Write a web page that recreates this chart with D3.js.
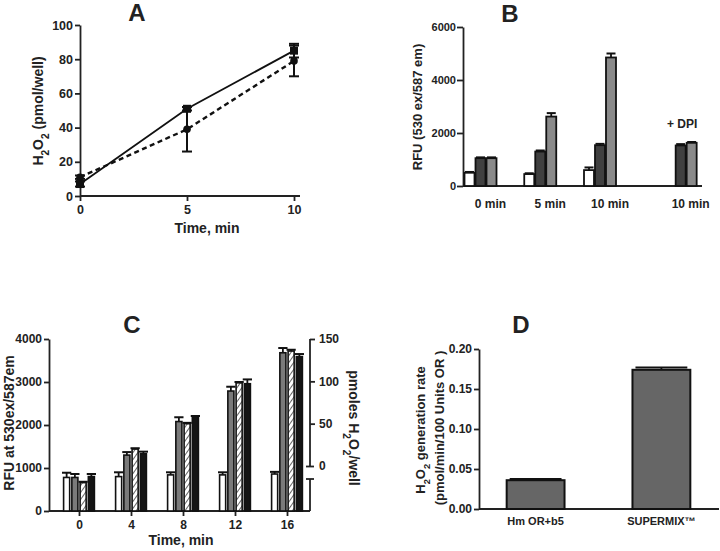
<!DOCTYPE html>
<html>
<head>
<meta charset="utf-8">
<script src="https://cdn.jsdelivr.net/npm/d3@7"></script>
<style>
  body { margin: 0; background: #fff; }
  text { font-family: "Liberation Sans", Arial, sans-serif; font-weight: bold; fill: #222; }
  .axis path, .axis line { stroke: #222; stroke-width: 1.8; }
  .axis text { font-size: 12px; }
</style>
</head>
<body>
<div id="wrapper"></div>
<script>
/* global d3 */

// panel A - H2O2 vs time
const aTimes = [0, 5, 10];
const aSolid = [7, 51, 85];
const aSolidErr = [1.5, 1, 4];
const aDashed = [11, 39, 79];
const aDashedErr = [1, 13, 9];
const aTicksY = [0, 20, 40, 60, 80, 100];

// panel B - RFU per condition
const bGroups = ["0 min", "5 min", "10 min", "10 min"];
const bWhite = [500, 450, 600, null];
const bWhiteErr = [30, 30, 100, 0];
const bDark = [1050, 1300, 1540, 1530];
const bDarkErr = [30, 40, 50, 50];
const bGrey = [1050, 2620, 4850, 1630];
const bGreyErr = [30, 130, 150, 30];
const bTicksY = [0, 2000, 4000, 6000];

// panel C - RFU / pmoles over time
const cTimes = [0, 4, 8, 12, 16];
const cWhite = [780, 800, 840, 840, 860];
const cWhiteErr = [110, 100, 60, 60, 50];
const cGrey = [780, 1300, 2080, 2790, 3680];
const cGreyErr = [80, 70, 100, 100, 110];
const cHatch = [660, 1440, 2030, 2980, 3720];
const cHatchErr = [20, 20, 20, 20, 30];
const cBlack = [800, 1330, 2200, 2960, 3590];
const cBlackErr = [60, 50, 10, 100, 60];
const cTicksLeft = [0, 1000, 2000, 3000, 4000];
const cTicksRight = [0, 50, 100, 150];

// panel D - generation rate
const dCategories = ["Hm OR+b5", "SUPERMIX™"];
const dRates = [0.036, 0.174];
const dRateErr = [0.0015, 0.003];
const dTicksY = [0, 0.05, 0.1, 0.15, 0.2];

const svg = d3.select("#wrapper")
  .append("svg")
  .attr("width", 720)
  .attr("height", 551);

svg.append("rect").attr("width", 720).attr("height", 551).attr("fill", "#fff");

const defs = svg.append("defs");
const hatch = defs.append("pattern")
  .attr("id", "hatch")
  .attr("patternUnits", "userSpaceOnUse")
  .attr("width", 4)
  .attr("height", 4)
  .attr("patternTransform", "rotate(35)");
hatch.append("rect").attr("width", 4).attr("height", 4).attr("fill", "#fff");
hatch.append("line").attr("x1", 0).attr("y1", 0).attr("x2", 0).attr("y2", 4)
  .attr("stroke", "#666").attr("stroke-width", 2);

// text with H2O2 subscripts
function subText(sel, parts) {
  parts.forEach(([t, sub]) => {
    const ts = sel.append("tspan").text(t);
    if (sub) ts.attr("baseline-shift", "sub").style("font-size", "0.72em");
  });
}

function panelTitle(x, y, letter) {
  svg.append("text").attr("x", x).attr("y", y)
    .attr("text-anchor", "middle")
    .style("font-size", "24px")
    .text(letter);
}

// up-only error bar with cap
function upErr(g, x, yVal, yTop, capW) {
  g.append("line").attr("x1", x).attr("x2", x).attr("y1", yVal).attr("y2", yTop)
    .attr("stroke", "#111").attr("stroke-width", 1.8);
  g.append("line").attr("x1", x - capW / 2).attr("x2", x + capW / 2)
    .attr("y1", yTop).attr("y2", yTop)
    .attr("stroke", "#111").attr("stroke-width", 2);
}

/* ---------- Panel A ---------- */
(function drawA() {
  const x = d3.scaleLinear().domain([0, 10]).range([80, 294]);
  const y = d3.scaleLinear().domain([0, 100]).range([196, 25]);
  const g = svg.append("g");

  const ya = g.append("g").attr("class", "axis")
    .attr("transform", "translate(80,0)")
    .call(d3.axisLeft(y).tickValues(aTicksY).tickSize(5).tickSizeOuter(0).tickPadding(2));
  const xa = g.append("g").attr("class", "axis")
    .attr("transform", "translate(0,196)")
    .call(d3.axisBottom(x).tickValues(aTimes).tickSize(5).tickSizeOuter(0).tickPadding(4));
  xa.select(".domain").attr("d", "M80,0H300");
  ya.selectAll("text").style("font-size", "12.5px");
  xa.selectAll("text").style("font-size", "12.5px");

  const pts = aTimes.map((t, i) => ({ t, s: aSolid[i], se: aSolidErr[i], d: aDashed[i], de: aDashedErr[i] }));

  g.append("path").datum(pts)
    .attr("fill", "none").attr("stroke", "#111").attr("stroke-width", 1.8)
    .attr("d", d3.line().x(d => x(d.t)).y(d => y(d.s)));
  g.append("path").datum(pts)
    .attr("fill", "none").attr("stroke", "#111").attr("stroke-width", 2.4)
    .attr("stroke-dasharray", "5,3.5")
    .attr("d", d3.line().x(d => x(d.t)).y(d => y(d.d)));

  pts.forEach(d => {
    [[d.s, d.se], [d.d, d.de]].forEach(([v, e]) => {
      g.append("line").attr("x1", x(d.t)).attr("x2", x(d.t))
        .attr("y1", y(v - e)).attr("y2", y(v + e))
        .attr("stroke", "#111").attr("stroke-width", 2);
      [v - e, v + e].forEach(c => g.append("line")
        .attr("x1", x(d.t) - 5).attr("x2", x(d.t) + 5)
        .attr("y1", y(c)).attr("y2", y(c))
        .attr("stroke", "#111").attr("stroke-width", 2));
    });
  });

  g.selectAll(".sq").data(pts).enter().append("rect")
    .attr("x", d => x(d.t) - 4).attr("y", d => y(d.s) - 4)
    .attr("width", 8).attr("height", 8).attr("fill", "#111");
  g.selectAll(".ci").data(pts).enter().append("circle")
    .attr("cx", d => x(d.t)).attr("cy", d => y(d.d)).attr("r", 3.8).attr("fill", "#111");

  const yl = g.append("text").attr("transform", "translate(43,111) rotate(-90)")
    .attr("text-anchor", "middle").style("font-size", "14px");
  subText(yl, [["H"], ["2", true], ["O"], ["2", true], [" (pmol/well)"]]);

  g.append("text").attr("x", 207).attr("y", 233).attr("text-anchor", "middle")
    .style("font-size", "14px").text("Time, min");

  panelTitle(137, 21, "A");
})();

/* ---------- Panel B ---------- */
(function drawB() {
  const groupPos = [0, 1, 2, 3.35];
  const x = d3.scaleLinear().domain([0, 2]).range([480.5, 600]);
  const y = d3.scaleLinear().domain([0, 6000]).range([186, 27]);
  const bw = 11;
  const g = svg.append("g");

  const ya = g.append("g").attr("class", "axis")
    .attr("transform", "translate(463,0)")
    .call(d3.axisLeft(y).tickValues(bTicksY).tickFormat(d3.format("d"))
      .tickSize(6).tickSizeOuter(0).tickPadding(1));
  ya.selectAll("text").style("font-size", "11px");

  g.append("line").attr("x1", 463).attr("x2", 702).attr("y1", 186).attr("y2", 186)
    .attr("stroke", "#222").attr("stroke-width", 1.8);

  const series = [
    { vals: bWhite, errs: bWhiteErr, fill: "#fff", off: -1 },
    { vals: bDark, errs: bDarkErr, fill: "#404040", off: 0 },
    { vals: bGrey, errs: bGreyErr, fill: "#8a8a8a", off: 1 }
  ];
  series.forEach(s => {
    s.vals.forEach((v, i) => {
      if (v == null) return;
      const cx = x(groupPos[i]) + s.off * bw;
      upErr(g, cx, y(v), y(v + s.errs[i]), bw - 2);
      g.append("rect")
        .attr("x", cx - bw / 2 + 0.5).attr("y", y(v))
        .attr("width", bw - 1).attr("height", 186 - y(v))
        .attr("fill", s.fill).attr("stroke", "#111").attr("stroke-width", 1.8);
    });
  });

  bGroups.forEach((lab, i) => {
    g.append("text").attr("x", x(groupPos[i]) + 10).attr("y", 208)
      .attr("text-anchor", "middle").style("font-size", "12px").text(lab);
  });
  g.append("text").attr("x", 667).attr("y", 128).style("font-size", "12px").text("+ DPI");

  g.append("text").attr("transform", "translate(422,107) rotate(-90)")
    .attr("text-anchor", "middle").style("font-size", "13px").text("RFU (530 ex/587 em)");

  panelTitle(510, 22, "B");
})();

/* ---------- Panel C ---------- */
(function drawC() {
  const x = d3.scalePoint().domain(cTimes).range([53, 313]).padding(0.5);
  const y = d3.scaleLinear().domain([0, 4000]).range([511, 339]);
  const yr = d3.scaleLinear().domain([0, 150]).range([466, 339]);
  const inner = d3.scaleBand().domain([0, 1, 2, 3]).range([-16, 16]).paddingInner(0.12);
  const g = svg.append("g");

  g.append("g").attr("class", "axis")
    .attr("transform", "translate(49,0)")
    .call(d3.axisLeft(y).tickValues(cTicksLeft).tickFormat(d3.format("d"))
      .tickSize(5).tickSizeOuter(0).tickPadding(2));
  const xa = g.append("g").attr("class", "axis")
    .attr("transform", "translate(0,511)")
    .call(d3.axisBottom(x).tickSize(5).tickSizeOuter(0).tickPadding(4));
  xa.select(".domain").attr("d", "M49,0H310");

  // right axis with a break below 0
  const ra = g.append("g").attr("class", "axis")
    .attr("transform", "translate(310,0)")
    .call(d3.axisRight(yr).tickValues(cTicksRight).tickSize(5).tickSizeOuter(0).tickPadding(4));
  ra.select(".domain").attr("d", "M0,339V466");
  ra.selectAll(".tick").filter(d => d === 0).select("line").attr("x1", -4).attr("x2", 4);
  g.append("line").attr("x1", 310).attr("x2", 310).attr("y1", 479).attr("y2", 511)
    .attr("stroke", "#222").attr("stroke-width", 1.8);
  g.append("line").attr("x1", 306).attr("x2", 314).attr("y1", 479).attr("y2", 479)
    .attr("stroke", "#222").attr("stroke-width", 1.8);

  const series = [
    { vals: cWhite, errs: cWhiteErr, fill: "#fff" },
    { vals: cGrey, errs: cGreyErr, fill: "#7a7a7a" },
    { vals: cHatch, errs: cHatchErr, fill: "url(#hatch)" },
    { vals: cBlack, errs: cBlackErr, fill: "#141414" }
  ];
  const bw = inner.bandwidth();
  series.forEach((s, si) => {
    s.vals.forEach((v, i) => {
      const left = x(cTimes[i]) + inner(si);
      upErr(g, left + bw / 2, y(v), y(v + s.errs[i]), bw + 2);
      g.append("rect")
        .attr("x", left + 0.6).attr("y", y(v))
        .attr("width", bw - 1.2).attr("height", 511 - y(v))
        .attr("fill", s.fill).attr("stroke", "#111").attr("stroke-width", 1.6);
    });
  });

  g.append("text").attr("transform", "translate(14,423) rotate(-90)")
    .attr("text-anchor", "middle").style("font-size", "14px").text("RFU at 530ex/587em");

  const rl = g.append("text").attr("transform", "translate(349,428) rotate(90)")
    .attr("text-anchor", "middle").style("font-size", "14px");
  subText(rl, [["pmoles H"], ["2", true], ["O"], ["2", true], ["/well"]]);

  g.append("text").attr("x", 181).attr("y", 545).attr("text-anchor", "middle")
    .style("font-size", "14px").text("Time, min");

  panelTitle(132, 333, "C");
})();

/* ---------- Panel D ---------- */
(function drawD() {
  const x = d3.scaleBand().domain(dCategories).range([479, 718]).paddingInner(0.54).paddingOuter(0.22);
  const y = d3.scaleLinear().domain([0, 0.2]).range([509, 349]);
  const g = svg.append("g");

  g.append("g").attr("class", "axis")
    .attr("transform", "translate(479,0)")
    .call(d3.axisLeft(y).tickValues(dTicksY).tickFormat(d3.format(".2f"))
      .tickSize(5).tickSizeOuter(0).tickPadding(2));

  g.append("line").attr("x1", 479).attr("x2", 719).attr("y1", 509).attr("y2", 509)
    .attr("stroke", "#222").attr("stroke-width", 1.8);

  dCategories.forEach((c, i) => {
    const cx = x(c) + x.bandwidth() / 2;
    upErr(g, cx, y(dRates[i]), y(dRates[i] + dRateErr[i]), x.bandwidth() - 6);
    g.append("rect")
      .attr("x", x(c)).attr("y", y(dRates[i]))
      .attr("width", x.bandwidth()).attr("height", 509 - y(dRates[i]))
      .attr("fill", "#666").attr("stroke", "#111").attr("stroke-width", 2);
    g.append("text").attr("x", cx).attr("y", 525).attr("text-anchor", "middle")
      .style("font-size", "11px").text(c);
  });

  const l1 = g.append("text").attr("transform", "translate(425,430) rotate(-90)")
    .attr("text-anchor", "middle").style("font-size", "13px");
  subText(l1, [["H"], ["2", true], ["O"], ["2", true], [" generation rate"]]);
  g.append("text").attr("transform", "translate(444,428) rotate(-90)")
    .attr("text-anchor", "middle").style("font-size", "13px")
    .text("(pmol/min/100 Units OR )");

  panelTitle(521, 333, "D");
})();
</script>
</body>
</html>
